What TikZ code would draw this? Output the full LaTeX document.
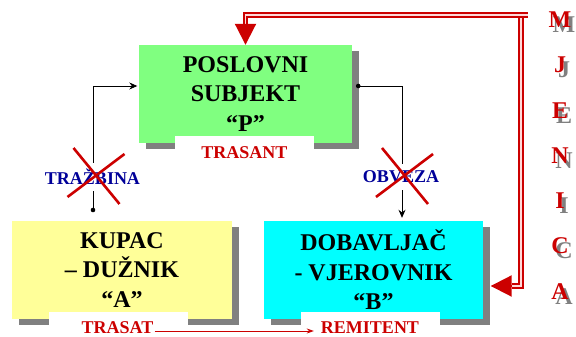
\documentclass[tikz,border=0pt]{standalone}
\usepackage{fontspec}
\setmainfont{Liberation Serif}
\usetikzlibrary{arrows.meta,shadows}
\definecolor{boxgreen}{RGB}{128,255,128}
\definecolor{boxyellow}{RGB}{255,255,153}
\definecolor{boxcyan}{RGB}{0,255,255}
\definecolor{shadowgray}{RGB}{128,128,128}
\definecolor{mred}{RGB}{204,0,0}
\definecolor{mblue}{RGB}{0,0,153}
\tikzset{
  box/.style={rectangle, minimum height=98pt, align=center, inner sep=0pt,
    font=\fontsize{24}{29.5}\selectfont\bfseries,
    general shadow={fill=shadowgray, shadow xshift=6.5pt, shadow yshift=-6pt}},
  lbl/.style={text=mred, font=\fontsize{18}{20}\selectfont\bfseries, inner sep=1pt},
  rel/.style={fill=white, text=mblue, font=\fontsize{18}{20}\selectfont\bfseries,
    inner xsep=1pt, inner ysep=6.5pt},
  conn/.style={line width=0.8pt, -{Stealth[length=8pt,width=7pt]}},
  xmark/.style={mred, line width=2.6pt},
  dbl/.style={mred, line width=2.3pt, double=red!15, double distance=1.2pt},
  bigarr/.style={mred, line width=2pt, -{Triangle[length=21pt,width=21pt]}},
  mj/.style={text=mred, font=\fontsize{24}{24}\selectfont\bfseries, inner sep=0pt}
}
\newcommand{\crossrel}[1]{%
  \draw[xmark] ([shift={(-19,29)}]#1.center) -- ([shift={(27,-27)}]#1.center)
    ([shift={(32,23)}]#1.center) -- ([shift={(-25,-20)}]#1.center);}
\begin{document}
\begin{tikzpicture}[x=1pt,y=1pt]
\useasboundingbox (0,0) rectangle (576,337);
\node[box, fill=boxgreen, minimum width=213pt] (ps) at (245.5,243) {POSLOVNI\\SUBJEKT\\“P”};
\node[box, fill=boxyellow, minimum width=220pt] (ka) at (122,67) {KUPAC\\– DUŽNIK\\“A”};
\node[box, fill=boxcyan, minimum width=219pt] (dv) at (373.5,67) {DOBAVLJAČ\\- VJEROVNIK\\“B”};
\fill[white] (175,201) rectangle (314,168);
\fill[white] (49,25) rectangle (188,0);
\fill[white] (301,25) rectangle (440,0);
\node[lbl] (trasant) at (244.5,184) {TRASANT};
\node[lbl] (trasat) at (117.5,9) {TRASAT};
\node[lbl] (remitent) at (370,9) {REMITENT};
\draw[mred, line width=0.8pt, -{Stealth[length=7pt,width=5pt]}]
  ([yshift=-3pt]trasat.east) -- ([xshift=-6pt,yshift=-3pt]remitent.west);
\coordinate (da) at (93,127);
\fill (da) circle (2.3pt);
\draw[conn, shorten >=1.5pt] (da) |- ([yshift=8pt]ps.west);
\coordinate (dp) at ([xshift=6pt,yshift=8pt]ps.east);
\fill (dp) circle (2.3pt);
\draw[conn, shorten >=3pt] (dp) -| ([xshift=28.5pt]dv.north);
\node[rel] (trazbina) at (92.5,160) {TRAŽBINA};
\node[rel] (obveza) at (401,160) {OBVEZA};
\crossrel{trazbina}
\crossrel{obveza}
\coordinate (rtop) at (527.5,322);
\coordinate (rbot) at (521,51);
\draw[dbl] (rtop -| rbot) -- (rbot) -- (512,51);
\draw[bigarr] (512,51) -- ([xshift=7.5pt]dv.east |- rbot);
\draw[dbl] (rtop) -| ([yshift=20pt]ps.north);
\draw[bigarr] ([yshift=20pt]ps.north) -- (ps.north);
\foreach \l [count=\i] in {M,J,E,N,I,C,A}{
  \node[mj, text=shadowgray] (ms\i) at (564,{312-45.2*(\i-1)}) {\l};
  \node[mj] (m\i) at (560,{317-45.2*(\i-1)}) {\l};
}
\end{tikzpicture}
\end{document}
